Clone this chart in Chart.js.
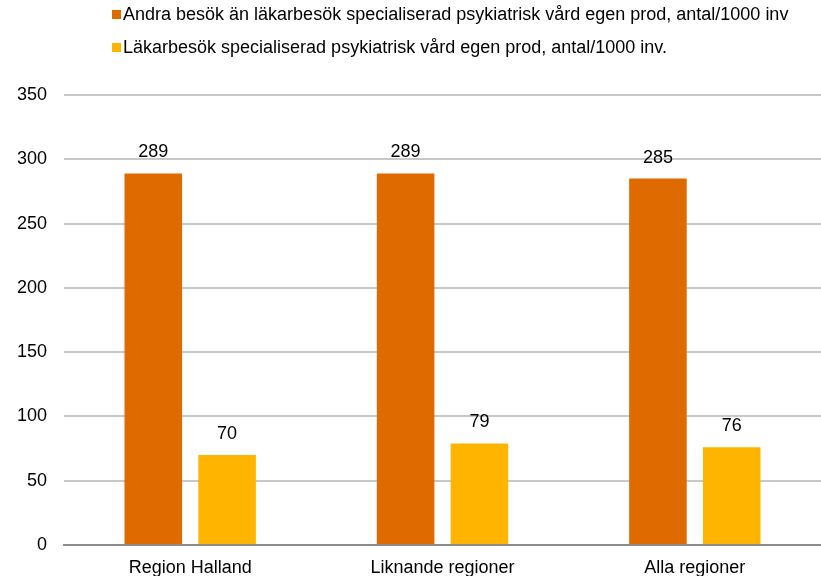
<!DOCTYPE html>
<html>
<head>
<meta charset="utf-8">
<script src="https://cdn.jsdelivr.net/npm/chart.js@4"></script>
<style>
  html, body { margin: 0; padding: 0; background: #fff; }
  #wrap { width: 821px; height: 576px; position: relative; }
</style>
</head>
<body>
<div id="wrap"><canvas id="chart" width="821" height="576"></canvas></div>
<script>
const categories = ['Region Halland', 'Liknande regioner', 'Alla regioner'];
const seriesNames = [
    'Andra besök än läkarbesök specialiserad psykiatrisk vård egen prod, antal/1000 inv',
    'Läkarbesök specialiserad psykiatrisk vård egen prod, antal/1000 inv.'
];
const otherVisits = [289, 289, 285];
const doctorVisits = [70, 79, 76];
const colors = ['#DF6A00', '#FFB500'];

const FONT = 'Liberation Sans, Arial, sans-serif';

// draws the value above each bar
const valueLabels = {
    id: 'valueLabels',
    afterDatasetsDraw(chart) {
        const ctx = chart.ctx;
        ctx.save();
        ctx.font = '18px ' + FONT;
        ctx.fillStyle = '#000';
        ctx.textAlign = 'center';
        ctx.textBaseline = 'middle';
        chart.data.datasets.forEach((ds, i) => {
            chart.getDatasetMeta(i).data.forEach((bar, j) => {
                ctx.fillText(ds.data[j], bar.x, bar.y - 21);
            });
        });
        ctx.restore();
    }
};

// left aligned legend, one series per row
const topLegend = {
    id: 'topLegend',
    afterDraw(chart) {
        const ctx = chart.ctx;
        ctx.save();
        ctx.font = '18px ' + FONT;
        ctx.textBaseline = 'middle';
        ctx.textAlign = 'left';
        chart.data.datasets.forEach((ds, i) => {
            const y = 15 + i * 33;
            ctx.fillStyle = ds.backgroundColor;
            ctx.fillRect(112, y - 5, 9, 9);
            ctx.fillStyle = '#000';
            ctx.fillText(ds.label, 123, y);
        });
        ctx.restore();
    }
};

new Chart(document.getElementById('chart').getContext('2d'), {
    type: 'bar',
    data: {
        labels: categories,
        datasets: [
            { label: seriesNames[0], data: otherVisits, backgroundColor: colors[0] },
            { label: seriesNames[1], data: doctorVisits, backgroundColor: colors[1] }
        ]
    },
    options: {
        responsive: false,
        animation: false,
        categoryPercentage: 0.585,
        barPercentage: 0.78,
        layout: { padding: { top: 95, right: 0, left: 0, bottom: 0 } },
        scales: {
            x: {
                grid: { display: false },
                border: { color: '#8C8C8C', width: 2 },
                ticks: { color: '#000', font: { family: FONT, size: 18 }, padding: 4 },
                afterFit: (scale) => { scale.height = 31; }
            },
            y: {
                min: 0,
                max: 350,
                ticks: { stepSize: 50, color: '#000', font: { family: FONT, size: 18 }, padding: 17 },
                grid: { color: '#C8C8C8', lineWidth: 2, drawTicks: false },
                border: { display: false }
            }
        },
        plugins: {
            legend: { display: false },
            tooltip: { enabled: false }
        }
    },
    plugins: [valueLabels, topLegend]
});
</script>
</body>
</html>
